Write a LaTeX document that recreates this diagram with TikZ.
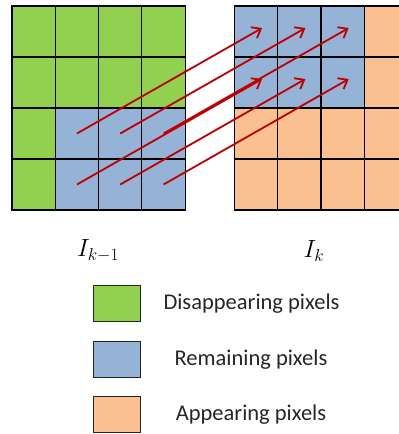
\documentclass[tikz,border=0pt]{standalone}
\usepackage{fontspec}
\setsansfont{Carlito}
\usetikzlibrary{arrows.meta}
\definecolor{gonegreen}{HTML}{92D050}
\definecolor{keptblue}{HTML}{95B3D7}
\definecolor{newpeach}{HTML}{FAC090}
\definecolor{flowred}{HTML}{C00000}
\begin{document}
\begin{tikzpicture}[x=1pt, y=-1pt, >={Straight Barb[length=2.8mm, width=4.4mm]},
  cell/.style={draw=black, line width=1.1pt, minimum width=43.3pt, minimum height=51pt, inner sep=0pt, outer sep=0pt},
  flow/.style={->, draw=flowred, line width=1.8pt, shorten >=-7pt},
  key/.style={draw=black!85, line width=0.8pt, minimum width=47pt, minimum height=36pt, inner sep=0pt},
  keytext/.style={font=\sffamily\fontsize{22.5}{26}\selectfont, text=black!85},
  frame/.style={font=\fontsize{24}{28}\selectfont}]
  \useasboundingbox (0,0) rectangle (399,434);
  \clip (0,0) rectangle (399,434);
  % frame k-1: green, remaining block bottom right
  \foreach \c in {0,...,3}{\foreach \r in {0,...,3}{
    \node[cell, fill=gonegreen] (L-\c-\r) at ({33.65+43.3*\c},{31.5+51*\r}) {};}}
  \foreach \c in {1,2,3}{\foreach \r in {2,3}{
    \node[cell, fill=keptblue] (L-\c-\r) at ({33.65+43.3*\c},{31.5+51*\r}) {};}}
  % frame k: peach, remaining block top left
  \foreach \c in {0,...,3}{\foreach \r in {0,...,3}{
    \node[cell, fill=newpeach] (R-\c-\r) at ({256+43.3*\c},{31.5+51*\r}) {};}}
  \foreach \c in {0,1,2}{\foreach \r in {0,1}{
    \node[cell, fill=keptblue] (R-\c-\r) at ({256+43.3*\c},{31.5+51*\r}) {};}}
  % motion of the remaining pixels
  \foreach \c in {1,2,3}{\foreach \r in {2,3}{
    \pgfmathtruncatemacro{\cc}{\c-1}\pgfmathtruncatemacro{\rr}{\r-2}
    \draw[flow] (L-\c-\r.center) -- (R-\cc-\rr.center);}}
  \node[frame] (Ikm) at (98,251) {$I_{k-1}$};
  \node[frame] (Ik) at (314,251) {$I_k$};
  % legend
  \node[key, fill=gonegreen] (kgone) at (116.7,303.3) {};
  \node[key, fill=keptblue] (kkept) at (116.7,359.7) {};
  \node[key, fill=newpeach] (knew) at (116.7,414.2) {};
  \node[keytext] (tgone) at (251.5,303.3) {Disappearing pixels};
  \node[keytext] (tkept) at (251,359.7) {Remaining pixels};
  \node[keytext] (tnew) at (251,414.2) {Appearing pixels};
\end{tikzpicture}
\end{document}
